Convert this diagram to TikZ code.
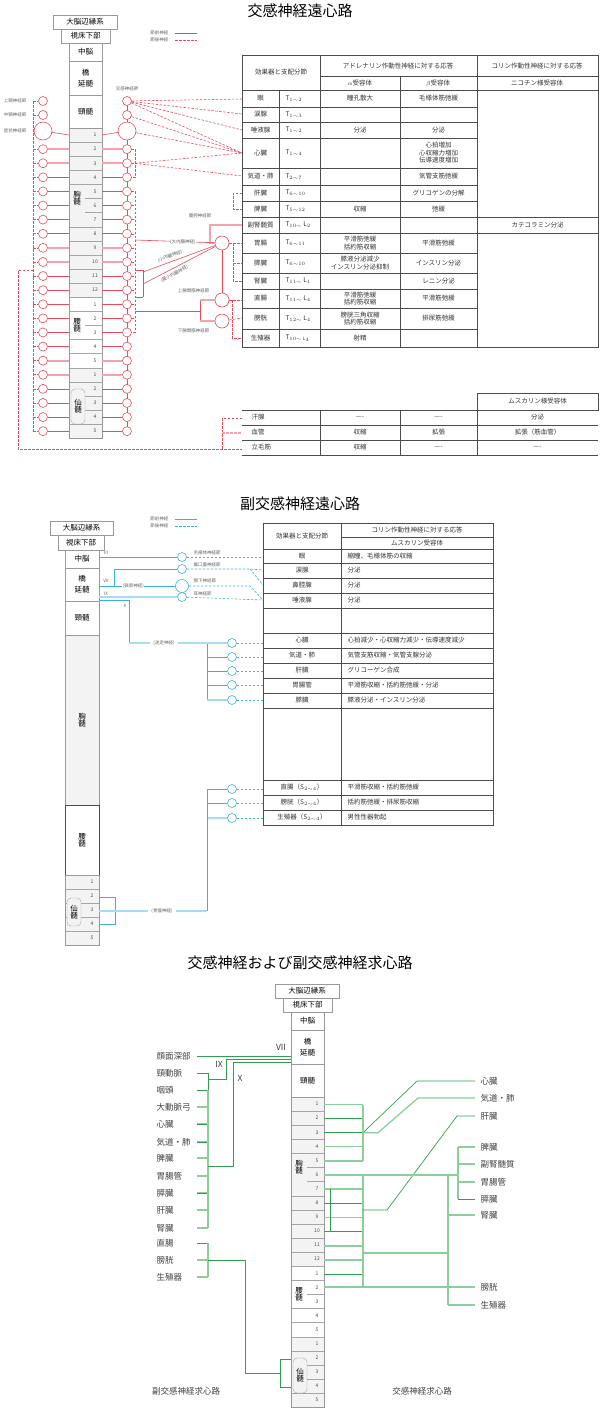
\documentclass[tikz,border=0pt]{standalone}
\usepackage{fontspec}
\setmainfont{Noto Sans CJK JP}
\definecolor{sred}{HTML}{E84C5A}
\definecolor{spink}{HTML}{F5A3AB}
\definecolor{pblue}{HTML}{3BB0E5}
\definecolor{plblue}{HTML}{A9DCF4}
\definecolor{dg}{HTML}{2EA04F}
\definecolor{lg}{HTML}{8CCF9C}
\definecolor{colgray}{HTML}{F3F3F3}
\tikzset{
 colbox/.style={draw=gray!80,line width=0.5pt},
 tiny/.style={font=\fontsize{4.5}{5}\selectfont,text=gray!80!black},
 tab/.style={font=\fontsize{6.5}{7.5}\selectfont,text=black!80,align=center},
 colt/.style={font=\fontsize{7.5}{9}\selectfont},
 rpre/.style={draw=sred,line width=0.6pt},
 rpreT/.style={draw=spink,line width=2pt},
 rpost/.style={draw=sred,line width=0.6pt,dash pattern=on 2.5pt off 1.5pt},
 rgang/.style={circle,draw=sred,fill=white,line width=0.6pt,inner sep=0pt},
 bpre/.style={draw=pblue,line width=0.6pt},
 bpreT/.style={draw=plblue,line width=2pt},
 bpost/.style={draw=pblue,line width=0.6pt,dash pattern=on 2.5pt off 1.5pt},
 bgang/.style={circle,draw=pblue,fill=white,line width=0.6pt,inner sep=0pt},
 gd/.style={draw=dg,line width=0.7pt},
 gl/.style={draw=lg,line width=1.3pt},
 glab/.style={font=\fontsize{8.5}{10}\selectfont,text=black!75},
 tline/.style={draw=black!70,line width=0.5pt},
 title/.style={font=\fontsize{15}{17}\selectfont}
}
\newcommand\SpCol{%
 \draw[colbox] (53,15) rectangle (117,29) node[midway,colt]{大脳辺縁系};
 \draw[colbox] (61,29) rectangle (110,43) node[midway,colt]{視床下部};
 \draw[colbox] (69,43) rectangle (102,61) node[midway,colt]{中脳};
 \draw[colbox] (69,61) rectangle (102,95) node[midway,colt,align=center]{橋\\[2pt]延髄};
 \draw[colbox] (69,95) rectangle (102,128) node[midway,colt]{頸髄};
 \foreach \i/\n in {1/1,2/2,3/3,4/4,5/5,6/6,7/7,8/8,9/9,10/10,11/11,12/12,13/1,14/2,15/3,16/4,17/5,18/1,19/2,20/3,21/4,22/5}{
  \pgfmathsetmacro\ya{128+(\i-1)*14.1}\pgfmathsetmacro\yb{128+\i*14.1}
  \pgfmathsetmacro\yc{128+(\i-0.5)*14.1}
  \ifnum\i<13 \fill[colgray] (69,\ya) rectangle (102,\yb);\fi
  \ifnum\i>17 \fill[colgray] (69,\ya) rectangle (102,\yb);\fi
  \node[font=\fontsize{5}{6}\selectfont,text=black!70] at (95,\yc) {\n};
 }
 \foreach \b in {1,2,3,4,7,8,9,10,11,12,13,15,16,17,18,21}{
  \pgfmathsetmacro\yy{128+\b*14.1}\draw[draw=gray!70,line width=0.4pt] (69,\yy) -- (102,\yy);}
 \foreach \b in {5,6,14,19,20}{
  \pgfmathsetmacro\yy{128+\b*14.1}\draw[draw=gray!70,line width=0.4pt] (85,\yy) -- (102,\yy);}
 \draw[colbox] (69,128) rectangle (102,438.2);
 \node[colt,align=center] at (77,198) {胸\\[-2pt]髄};
 \node[colt,align=center] at (77,325) {腰\\[-2pt]髄};
 \draw[draw=gray!70,rounded corners=4pt] (71,389) rectangle (85,424);
 \node[colt,align=center] at (78,406.5) {仙\\[-2pt]髄};
}
\begin{document}
\begin{tikzpicture}[x=1pt,y=-1pt]
\useasboundingbox (0,0) rectangle (600,1408);
%================ Section 1 =================
\node[title] (t1) at (300,11) {交感神経遠心路};
\SpCol
\node[tiny,anchor=east] (lg1) at (172,33) {節前神経};
\draw[rpre] (175,33) -- (197,33);
\node[tiny,anchor=east] (lg2) at (172,40) {節後神経};
\draw[rpost] (175,40) -- (197,40);
% ganglia
\node[tiny,anchor=east] at (30,101) {上頸神経節};
\node[tiny,anchor=east] at (30,115) {中頸神経節};
\node[tiny,anchor=east] at (30,131) {星状神経節};
\node[tiny] at (127,89) {交感神経幹};
\draw[rpost] (33,101) -- (33,431);
\draw[rpre] (127,101) -- (127,431);
\node[rgang,minimum size=9pt] (lc1) at (43,101) {};
\node[rgang,minimum size=9pt] (lc2) at (43,115) {};
\node[rgang,minimum size=18pt] (lc3) at (43,131) {};
\node[rgang,minimum size=9pt] (rc1) at (127,101) {};
\node[rgang,minimum size=9pt] (rc2) at (127,115) {};
\node[rgang,minimum size=18pt] (rc3) at (127,131) {};
\draw[rpost] (33,101) -- (lc1); \draw[rpost] (33,115) -- (lc2); \draw[rpost] (33,131) -- (lc3);
\draw[rpre] (lc3) -- (69,135); \draw[rpre] (102,135) -- (rc3);
\foreach \i in {2,...,22}{
 \pgfmathsetmacro\yc{128+(\i-0.5)*14.1}
 \coordinate (L\i) at (43,\yc); \coordinate (R\i) at (127,\yc);
 \draw[rpre] (69,\yc) -- (48,\yc); \draw[rpre] (102,\yc) -- (122,\yc);
 \draw[rpost] (33,\yc) -- (38,\yc);
}
\foreach \i in {2,3,9,10,17,18}{
 \pgfmathsetmacro\yc{128+(\i-0.5)*14.1}
 \draw[rpreT] (69,\yc) -- (48,\yc); \draw[rpreT] (102,\yc) -- (122,\yc);}
\foreach \i in {2,...,22}{
 \pgfmathsetmacro\yc{128+(\i-0.5)*14.1}
 \node[rgang,minimum size=9pt] at (43,\yc) {};
 \node[rgang,minimum size=9pt] at (127,\yc) {};}
% dashed brackets right of chain
\draw[rpost] (131,149.2) -- (135,149.2) -- (135,177.4) -- (131,177.4);
\draw[rpost] (131,163.3) -- (135,163.3);
\draw[rpost] (131,191.5) -- (135,191.5) -- (135,332) -- (131,332);
\foreach \yy in {205.6,219.7,233.8,247.9,262,276.1,290.2,304.3,318.4}{\draw[rpost] (131,\yy) -- (135,\yy);}
% fans to head organs
\draw[rpost] (rc1) -- (242,99); \draw[rpost] (rc1) -- (242,114);
\draw[rpost] (rc1) -- (242,130); \draw[rpost] (rc1) -- (242,153);
\draw[rpost] (rc2) -- (242,153); \draw[rpost] (rc3) -- (242,153);
\draw[rpost] (135,163.3) -- (242,153); \draw[rpost] (135,163.3) -- (242,176);
% abdominal
\draw[rpost] (242,193) -- (233,193) -- (233,209) -- (242,209);
\draw[rpost] (233,243) -- (233,281) -- (242,281); \draw[rpost] (233,263) -- (242,263);
\node[rgang,minimum size=14pt] (cel) at (222,243) {};
\draw[rpost] (cel) -- (242,243);
\draw[rpreT] (cel) -- (210,243) -- (210,225) -- (242,225);
\node[tiny] at (200,216) {腹腔神経節};
\draw[rpre] (135,240) -- node[tiny,fill=white,inner sep=0.5pt,pos=0.6]{(大内臓神経)} (cel);
\draw[rpre] (143,270) -- (143,297); \draw[rpre] (135,270) -- (143,270); \draw[rpre] (135,297) -- (143,297);
\draw[rpre] (143,272) -- node[tiny,above=-0.5pt,sloped,pos=0.4]{(小内臓神経)} (cel);
\draw[rpre] (143,284) -- node[tiny,below=-0.5pt,sloped,pos=0.4]{(最小内臓神経)} (cel);
\node[rgang,minimum size=14pt] (sm) at (222,300) {};
\node[rgang,minimum size=14pt] (im) at (222,321) {};
\draw[rpre] (cel) -- (sm);
\draw[rpre] (135,311) -- (200,311);
\draw[rpre] (200,300) -- (200,321);
\draw[rpreT] (200,300) -- (sm); \draw[rpreT] (200,321) -- (im);
\node[tiny,anchor=east] at (213,291) {上腸間膜神経節};
\node[tiny,anchor=east] at (213,331) {下腸間膜神経節};
\draw[rpost] (sm) -- (242,300); \draw[rpost] (im) -- (242,318);
\draw[rpost] (232,300) -- (232,338) -- (242,338);
% sweat etc.
\draw[rpost] (33,270) -- (18,270) -- (18,449) -- (242,449);
\draw[rpost] (242,418) -- (222,418) -- (222,449);
\draw[rpost,line width=1.5pt,draw=spink] (222,433) -- (242,433);
% table 1
\begin{scope}[tline]
\draw (242,55) rectangle (598,347);
\draw (242,90) -- (598,90); \draw (320,76) -- (598,76);
\draw (320,55) -- (320,347); \draw (400,76) -- (400,347); \draw (477,55) -- (477,347);
\draw (279,90) -- (279,347);
\foreach \yy in {107,122,138,168,185,201,253,273,289,308,329}{\draw (242,\yy) -- (477,\yy);}
\draw (242,217) -- (598,217); \draw (242,233) -- (598,233);
\end{scope}
\node[tab] at (281,72) {効果器と支配分節};
\node[tab] at (398,66) {アドレナリン作動性神経に対する応答};
\node[tab] at (537,66) {コリン作動性神経に対する応答};
\node[tab] at (360,83) {$\alpha$受容体};
\node[tab] at (438,83) {$\beta$受容体};
\node[tab] at (537,83) {ニコチン様受容体};
\foreach \yc/\org/\seg/\a/\b in {
 98.5/眼/{1\sim2}/瞳孔散大/毛様体筋弛緩,
 114.5/涙腺/{1\sim3}//,
 130/唾液腺/{1\sim2}/分泌/分泌,
 153/心臓/{1\sim4}//{心拍増加\\心収縮力増加\\伝導速度増加},
 176.5/気道・肺/{2\sim7}//気管支筋弛緩,
 193/肝臓/{6\sim10}//グリコゲンの分解,
 209/脾臓/{5\sim12}/収縮/弛緩,
 243/胃腸/{6\sim11}/{平滑筋弛緩\\括約筋収縮}/平滑筋弛緩,
 263/膵臓/{6\sim10}/{膵液分泌減少\\インスリン分泌抑制}/インスリン分泌,
 338/生殖器/{10\sim}\,\mathrm{L}_{4}/射精/}{
 \node[tab] at (260.5,\yc) {\org};
 \node[tab,anchor=west] at (282,\yc) {$\mathrm{T}_{\seg}$};
 \node[tab] at (360,\yc) {\a};
 \node[tab] at (438.5,\yc) {\b};}
\node[tab] at (260.5,225) {副腎髄質};
\node[tab,anchor=west] at (282,225) {$\mathrm{T}_{10\sim}\,\mathrm{L}_{2}$};
\node[tab] at (537.5,225) {カテコラミン分泌};
\node[tab] at (260.5,281) {腎臓};
\node[tab,anchor=west] at (282,281) {$\mathrm{T}_{11\sim}\,\mathrm{L}_{1}$};
\node[tab] at (438.5,281) {レニン分泌};
\node[tab] at (260.5,298.5) {直腸};
\node[tab,anchor=west] at (282,298.5) {$\mathrm{T}_{11\sim}\,\mathrm{L}_{4}$};
\node[tab] at (360,298.5) {平滑筋弛緩\\括約筋収縮};
\node[tab] at (438.5,298.5) {平滑筋弛緩};
\node[tab] at (260.5,318.5) {膀胱};
\node[tab,anchor=west] at (282,318.5) {$\mathrm{T}_{12\sim}\,\mathrm{L}_{4}$};
\node[tab] at (360,318.5) {膀胱三角収縮\\括約筋収縮};
\node[tab] at (438.5,318.5) {排尿筋弛緩};
% small table
\begin{scope}[tline]
\draw (477,393) rectangle (598,410);
\draw (242,410) -- (598,410); \draw (242,425) -- (598,425); \draw (242,440) -- (598,440); \draw (242,455) -- (598,455);
\draw (320,410) -- (320,455); \draw (400,410) -- (400,455); \draw (477,410) -- (477,455);
\end{scope}
\node[tab] at (537.5,401.5) {ムスカリン様受容体};
\foreach \yc/\o/\a/\b/\c in {417.5/汗腺/----/----/分泌, 432.5/血管/収縮/拡張/拡張（筋血管）, 447.5/立毛筋/収縮/----/----}{
 \node[tab,anchor=west] at (248,\yc) {\o}; \node[tab] at (360,\yc) {\a};
 \node[tab] at (438.5,\yc) {\b}; \node[tab] at (537.5,\yc) {\c};}
%================ Section 2 =================
\node[title] (t2) at (300,504) {副交感神経遠心路};
\node[tiny,anchor=east] at (172,519) {節前神経};
\draw[bpre] (175,519) -- (197,519);
\node[tiny,anchor=east] at (172,526) {節後神経};
\draw[bpost] (175,526) -- (197,526);
\draw[colbox] (50,521) rectangle (113,535) node[midway,colt]{大脳辺縁系};
\draw[colbox] (58,535) rectangle (104,550) node[midway,colt]{視床下部};
\draw[colbox] (65,550) rectangle (99,568) node[midway,colt]{中脳};
\draw[colbox] (65,568) rectangle (99,601) node[midway,colt,align=center]{橋\\[2pt]延髄};
\draw[colbox] (65,601) rectangle (99,635) node[midway,colt]{頸髄};
\fill[colgray] (65,635) rectangle (99,805);
\draw[colbox] (65,635) rectangle (99,805);
\node[colt,align=center] at (82,720) {胸\\[-2pt]髄};
\draw[draw=black!70,line width=0.6pt] (65,805) rectangle (99,875);
\node[colt,align=center] at (82,840) {腰\\[-2pt]髄};
\fill[colgray] (65,875) rectangle (99,945);
\foreach \yy in {889,903,917,931}{\draw[draw=gray!70,line width=0.4pt] (65,\yy) -- (99,\yy);}
\draw[colbox] (65,875) rectangle (99,945);
\foreach \yc/\n in {882/1,896/2,910/3,924/4,938/5}{\node[font=\fontsize{5}{6}\selectfont,text=black!70] at (92,\yc) {\n};}
\draw[draw=gray!70,fill=colgray,rounded corners=4pt] (67,898) rectangle (81,926);
\node[colt,align=center] at (74,912) {仙\\[-2pt]髄};
% cranial
\node[bgang,minimum size=9pt] (cil) at (182,557) {};
\node[bgang,minimum size=9pt] (pte) at (182,569) {};
\node[bgang,minimum size=13pt] (sub) at (182,586) {};
\node[bgang,minimum size=9pt] (oti) at (182,597) {};
\draw[bpre] (99,557) -- (cil);
\draw[bpre] (114,586) -- (114,569) -- (pte);
\draw[bpre] (99,586) -- node[tiny,fill=white,inner sep=0.5pt,pos=0.45]{(鼓索神経)} (sub);
\draw[bpreT] (99,597) -- (oti);
\draw[bpre] (99,600) -- (129,600) -- (129,643) -- (148,643);
\node[tiny] at (106,553) {III}; \node[tiny] at (106,581) {VII}; \node[tiny] at (106,594) {IX}; \node[tiny] at (125,606) {X};
\node[tiny,anchor=west] at (190,553) {毛様体神経節};
\node[tiny,anchor=west] at (190,565) {翼口蓋神経節};
\node[tiny,anchor=west] at (190,581) {顎下神経節};
\node[tiny,anchor=west] at (190,594) {耳神経節};
\draw[bpost] (cil) -- (263,557);
\draw[bpost] (pte) -- (250,569) -- (263,570); \draw[bpost] (250,569) -- (263,585);
\draw[bpost] (sub) -- (250,586) -- (263,600);
\draw[bpost] (oti) -- (263,600);
% vagus
\node[tiny] (vag) at (164,643) {(迷走神経)};
\draw[bpreT] (129,643) -- (vag); \draw[bpreT] (vag) -- (207,643);
\draw[bpre] (207,643) -- (207,700);
\foreach \yc in {643,657,671,685,700}{
 \node[bgang,minimum size=9pt] (v\yc) at (232,\yc) {};
 \draw[bpre] (207,\yc) -- (v\yc); \draw[bpost] (v\yc) -- (263,\yc);}
\draw[bpreT] (207,643) -- (v643); \draw[bpreT] (207,700) -- (v700);
% pelvic
\foreach \yc in {789,803,818}{
 \node[bgang,minimum size=9pt] (p\yc) at (232,\yc) {};
 \draw[bpre] (207,\yc) -- (p\yc); \draw[bpost] (p\yc) -- (263,\yc);}
\draw[bpreT] (207,818) -- (p818);
\draw[bpre] (207,789) -- (207,911);
\draw[bpre] (99,897) -- (115,897) -- (115,924) -- (99,924);
\node[tiny] (pel) at (162,911) {(骨盤神経)};
\draw[bpreT] (99,911) -- (pel); \draw[bpreT] (pel) -- (207,911);
% table 2
\begin{scope}[tline]
\draw (263,523) rectangle (493,825);
\draw (341,523) -- (341,825);
\draw (341,537) -- (493,537);
\foreach \yy in {549,563,578,593,608,633,648,663,678,693,708,780,795,810}{\draw (263,\yy) -- (493,\yy);}
\end{scope}
\node[tab] at (302,536) {効果器と支配分節};
\node[tab] at (417,530) {コリン作動性神経に対する応答};
\node[tab] at (417,543) {ムスカリン受容体};
\foreach \yc/\o/\r in {556/眼/{縮瞳、毛様体筋の収縮},570.5/涙腺/分泌,585.5/鼻腔腺/分泌,600.5/唾液腺/分泌,
 640.5/心臓/心拍減少・心収縮力減少・伝導速度減少,655.5/気道・肺/気管支筋収縮・気管支腺分泌,670.5/肝臓/グリコーゲン合成,
 685.5/胃腸管/平滑筋収縮・括約筋弛緩・分泌,700.5/膵臓/膵液分泌・インスリン分泌,
 787.5/{直腸（$\mathrm{S}_{2\sim4}$）}/平滑筋収縮・括約筋弛緩,802.5/{膀胱（$\mathrm{S}_{2\sim4}$）}/括約筋弛緩・排尿筋収縮,
 817.5/{生殖器（$\mathrm{S}_{2\sim4}$）}/男性性器勃起}{
 \node[tab] at (302,\yc) {\o}; \node[tab,anchor=west] at (344,\yc) {\r};}
%================ Section 3 =================
\node[title] (t3) at (300,963) {交感神経および副交感神経求心路};
\begin{scope}[shift={(222,969)}]\SpCol\end{scope}
% left labels
\foreach \yc/\o in {1056/顔面深部,1073/頸動脈,1090/咽頭,1107/大動脈弓,1124/心臓,1142/気道・肺,1158/脾臓,1176/胃腸管,1193/膵臓,1210/肝臓,1228/腎臓,1243/直腸,1260/膀胱,1277/生殖器}{
 \node[glab,anchor=west] at (153,\yc) {\o};}
\foreach \yc in {1107,1124,1142,1158,1176,1193,1210,1228,1260,1277}{\draw[gl] (197,\yc) -- (208,\yc);}
\foreach \yc in {1073,1090,1124,1142,1193,1243}{\draw[gd] (197,\yc) -- (208,\yc);}
\draw[gd] (197,1056) -- (291,1056);
\node[glab] at (281,1047) {VII};
\draw[gd] (208,1073) -- (208,1090); \draw[gd] (208,1079) -- (226,1079) -- (226,1059) -- (291,1059);
\node[glab] at (219,1064) {IX};
\draw[gl] (208,1090) -- (208,1228);
\draw[gd] (208,1166) -- (233,1166) -- (233,1062) -- (291,1062);
\node[glab] at (240,1078) {X};
\draw[gl] (208,1243) -- (208,1277);
\draw[gd] (208,1260) -- (245,1260) -- (245,1373) -- (280,1373);
\draw[gd] (291,1359) -- (280,1359) -- (280,1387) -- (291,1387);
\node[glab] at (186,1391) {副交感神経求心路};
\node[glab] at (422,1391) {交感神経求心路};
% right side
\foreach \yc in {1104.5,1146.8,1160.9,1189.1,1217.3,1246,1260}{\draw[gl] (324,\yc) -- (363,\yc);}
\foreach \yc in {1118.6,1132.7,1203.2,1231.7,1274}{\draw[gd] (324,\yc) -- (363,\yc);}
\draw[gl] (363,1104.5) -- (363,1160.9);
\draw[gl] (363,1175) -- (363,1287);
\draw[gd] (363,1132.7) -- (417,1081) -- (475,1081);
\draw[gl] (363,1132.7) -- (378,1132.7) -- (418,1098) -- (475,1098);
\draw[gd] (363,1210) -- (387,1210) -- (457,1116) -- (475,1116);
\draw[gl] (324,1175) -- (458,1175);
\draw[gd] (330,1189) -- (330,1232);
\draw[gl] (458,1147) -- (458,1199);
\foreach \yc in {1147,1164,1182}{\draw[gl] (458,\yc) -- (475,\yc);}
\draw[gd] (458,1199) -- (475,1199);
\draw[gl] (448,1175) -- (448,1305);
\draw[gl] (448,1215) -- (475,1215); \draw[gl] (448,1305) -- (475,1305);
\draw[gl] (363,1253) -- (448,1253);
\draw[gl] (324,1287) -- (475,1287);
\foreach \yc/\o in {1081/心臓,1098/気道・肺,1116/肝臓,1147/脾臓,1164/副腎髄質,1182/胃腸管,1199/膵臓,1215/腎臓,1287/膀胱,1305/生殖器}{
 \node[glab,anchor=west] at (477,\yc) {\o};}
\end{tikzpicture}
\end{document}
